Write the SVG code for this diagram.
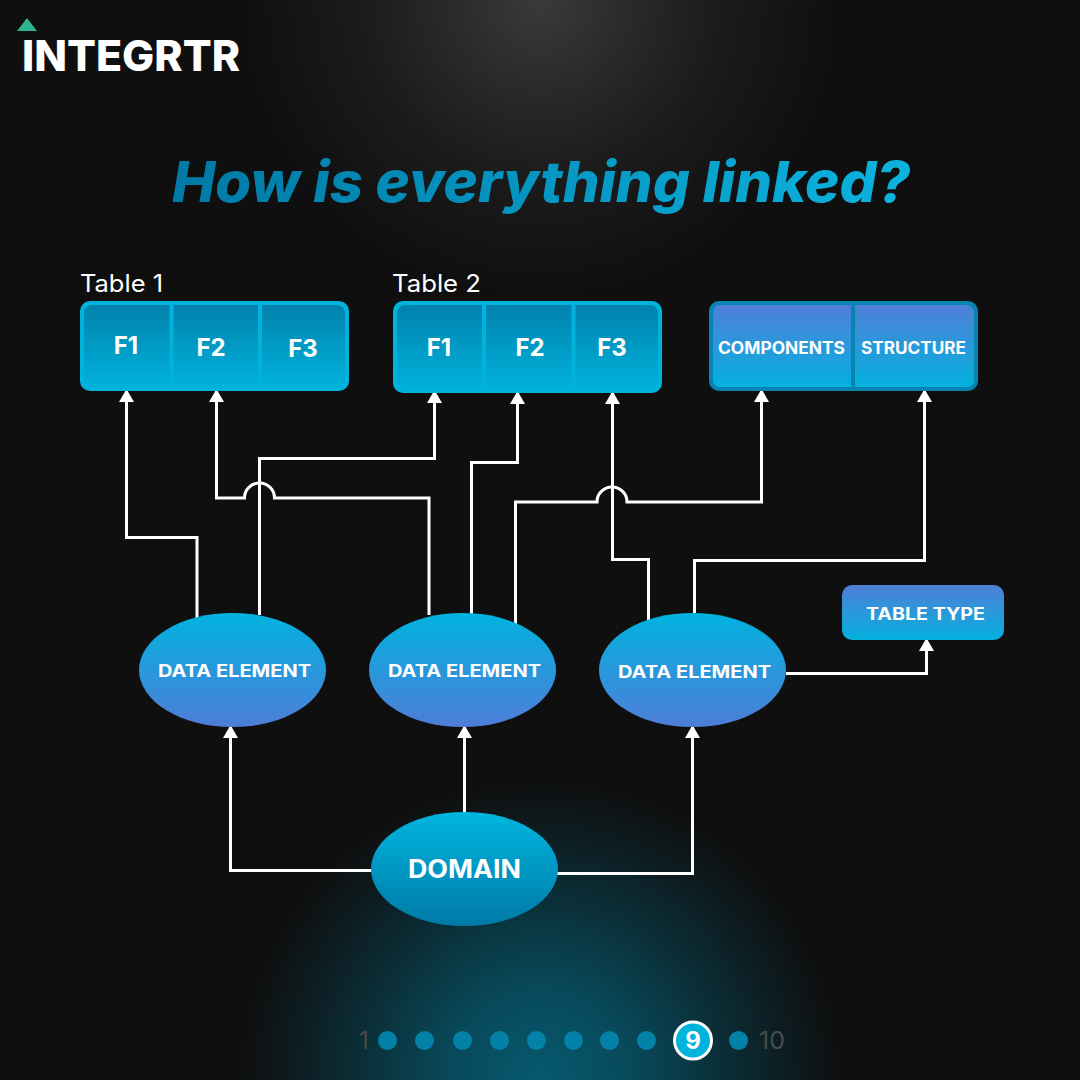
<svg xmlns="http://www.w3.org/2000/svg" width="1080" height="1080" viewBox="0 0 1080 1080">
<defs>
<radialGradient id="glowT" gradientUnits="userSpaceOnUse" cx="540" cy="0" r="300"><stop offset="0" stop-color="#3a3a3a"/><stop offset="0.3" stop-color="#2a2a2a"/><stop offset="0.6" stop-color="#1b1b1b"/><stop offset="1" stop-color="#0f0f0f"/></radialGradient>
<radialGradient id="glowB" gradientUnits="userSpaceOnUse" cx="540" cy="1080" r="300"><stop offset="0" stop-color="#07596e"/><stop offset="0.3" stop-color="#084a5b"/><stop offset="0.6" stop-color="#0b2f38"/><stop offset="0.85" stop-color="#0d1a1e"/><stop offset="1" stop-color="#0f0f0f"/></radialGradient>
<linearGradient id="title" gradientUnits="userSpaceOnUse" x1="172" y1="0" x2="910" y2="0"><stop offset="0" stop-color="#0079a5"/><stop offset="1" stop-color="#0bb3df"/></linearGradient>
<linearGradient id="tbl" x1="0" y1="0" x2="0" y2="1"><stop offset="0" stop-color="#0082ad"/><stop offset="1" stop-color="#00b4dd"/></linearGradient>
<linearGradient id="blue" x1="0" y1="0" x2="0" y2="1"><stop offset="0" stop-color="#4f7fd8"/><stop offset="1" stop-color="#04b1de"/></linearGradient>
<linearGradient id="ell" x1="0" y1="0" x2="0" y2="1"><stop offset="0" stop-color="#00b3df"/><stop offset="1" stop-color="#4f7dd8"/></linearGradient>
<linearGradient id="dom" x1="0" y1="0" x2="0" y2="1"><stop offset="0" stop-color="#00b6e0"/><stop offset="1" stop-color="#0079a6"/></linearGradient>
</defs>
<style>
text{font-family:"Inter","Liberation Sans",sans-serif;fill:#fff}
.b{font-weight:700}
.lbl{font-size:17px;font-weight:700}
.f{font-size:24px;font-weight:700;text-anchor:middle}
.cap{font-size:24px;font-weight:400}
.num{font-size:24px;fill:#4a4a4a}
.c{fill:none;stroke:#fff;stroke-width:3}
.dot{fill:#0481a6}
</style>
<rect width="1080" height="1080" fill="#0f0f0f"/>
<circle cx="540" cy="0" r="300" fill="url(#glowT)"/>
<circle cx="540" cy="1080" r="300" fill="url(#glowB)"/>

<g id="logo">
<path d="M17 31 L27 18 L37 31 Z" fill="#2fb591"/>
<text x="22" y="71" font-weight="800" font-size="43" textLength="218" lengthAdjust="spacingAndGlyphs">INTEGRTR</text>
</g>
<text id="title-text" x="172" y="202" font-size="56" font-weight="800" font-style="italic" textLength="738" lengthAdjust="spacingAndGlyphs" style="fill:url(#title)">How is everything linked?</text>

<g id="connectors">
<path class="c" d="M197 619V537.500H126.500V391"/>
<path class="c" d="M429 615V498H274.500A15 15 0 0 0 244.500 498H216.500V391"/>
<path class="c" d="M259.500 615V458.500H434.500V391"/>
<path class="c" d="M471.500 615V462.500H517.500V392"/>
<path class="c" d="M515.500 625V502H597A15 15 0 0 1 627 502H761.500V390"/>
<path class="c" d="M648.500 620V559.500H612.500V392"/>
<path class="c" d="M694.500 613V560.500H924.500V390"/>
<path class="c" d="M786 673.500H926.500V639"/>
<path class="c" d="M372 870.500H230.500V727"/>
<path class="c" d="M464.500 813V727"/>
<path class="c" d="M557 873.500H692.500V727"/>
<g fill="#fff">
<path d="M119 402 L126.500 389 L134 402Z"/>
<path d="M209 402 L216.500 389 L224 402Z"/>
<path d="M427 403 L434.500 390 L442 403Z"/>
<path d="M510 404 L517.500 391 L525 404Z"/>
<path d="M605 404 L612.500 391 L620 404Z"/>
<path d="M754 402 L761.500 389 L769 402Z"/>
<path d="M917 402 L924.500 389 L932 402Z"/>
<path d="M919 651 L926.500 638 L934 651Z"/>
<path d="M223 738 L230.500 725 L238 738Z"/>
<path d="M457 738 L464.500 725 L472 738Z"/>
<path d="M685 738 L692.500 725 L700 738Z"/>
</g>
</g>

<g id="table1">
<text x="80" y="292" class="cap" textLength="83" lengthAdjust="spacingAndGlyphs">Table 1</text>
<rect x="80" y="301" width="269" height="90" rx="10" fill="#00b3dc"/>
<rect x="84" y="305" width="261" height="85" rx="8" fill="url(#tbl)"/>
<rect x="169.500" y="305" width="4" height="80" fill="#00b3dc"/><rect x="258" y="305" width="4" height="80" fill="#00b3dc"/>
<text x="126" y="354" class="f">F1</text><text x="211" y="356" class="f">F2</text><text x="303" y="357" class="f">F3</text>
</g>
<g id="table2">
<text x="392" y="292" class="cap" textLength="89" lengthAdjust="spacingAndGlyphs">Table 2</text>
<rect x="393" y="301" width="269" height="92" rx="10" fill="#00b3dc"/>
<rect x="397" y="305" width="261" height="87" rx="8" fill="url(#tbl)"/>
<rect x="482" y="305" width="4" height="82" fill="#00b3dc"/><rect x="571.500" y="305" width="4" height="82" fill="#00b3dc"/>
<text x="439" y="356" class="f">F1</text><text x="530" y="356" class="f">F2</text><text x="612" y="356" class="f">F3</text>
</g>
<g id="table3">
<rect x="709" y="301" width="269" height="90" rx="10" fill="#0585b0"/>
<rect x="713" y="305" width="261" height="82" rx="7" fill="url(#blue)"/>
<rect x="851" y="305" width="4" height="82" fill="#0585b0"/>
<text x="718" y="353.500" class="lbl" textLength="127" lengthAdjust="spacingAndGlyphs">COMPONENTS</text>
<text x="861" y="353.500" class="lbl" textLength="105" lengthAdjust="spacingAndGlyphs">STRUCTURE</text>
</g>
<g id="table-type">
<rect x="842" y="585" width="162" height="55" rx="10" fill="url(#blue)"/>
<text x="866" y="620" class="lbl" textLength="119" lengthAdjust="spacingAndGlyphs">TABLE TYPE</text>
</g>
<g id="de1"><ellipse cx="232.500" cy="670" rx="93.500" ry="57" fill="url(#ell)"/><text x="158" y="676.500" class="lbl" textLength="153" lengthAdjust="spacingAndGlyphs">DATA ELEMENT</text></g>
<g id="de2"><ellipse cx="462.500" cy="670" rx="93.500" ry="57" fill="url(#ell)"/><text x="388" y="676.500" class="lbl" textLength="153" lengthAdjust="spacingAndGlyphs">DATA ELEMENT</text></g>
<g id="de3"><ellipse cx="692.500" cy="670" rx="93.500" ry="57" fill="url(#ell)"/><text x="618" y="677.500" class="lbl" textLength="153" lengthAdjust="spacingAndGlyphs">DATA ELEMENT</text></g>
<g id="domain"><ellipse cx="464.500" cy="869" rx="93.500" ry="57" fill="url(#dom)"/><text x="408" y="878" class="b" font-size="25" textLength="113" lengthAdjust="spacingAndGlyphs">DOMAIN</text></g>

<g id="pager">
<text x="359" y="1049" class="num">1</text>
<circle class="dot" cx="387.500" cy="1040.500" r="9.500"/>
<circle class="dot" cx="424.500" cy="1040.500" r="9.500"/>
<circle class="dot" cx="462.500" cy="1040.500" r="9.500"/>
<circle class="dot" cx="499.500" cy="1040.500" r="9.500"/>
<circle class="dot" cx="536.500" cy="1040.500" r="9.500"/>
<circle class="dot" cx="573.500" cy="1040.500" r="9.500"/>
<circle class="dot" cx="609.500" cy="1040.500" r="9.500"/>
<circle class="dot" cx="646.500" cy="1040.500" r="9.500"/>
<circle cx="693" cy="1040.500" r="18.500" fill="#00b3dc" stroke="#fff" stroke-width="3"/>
<text x="693" y="1049" class="b" font-size="24" text-anchor="middle">9</text>
<circle class="dot" cx="738.500" cy="1040.500" r="9.500"/>
<text x="759" y="1049" class="num" textLength="26" lengthAdjust="spacingAndGlyphs">10</text>
</g>
</svg>
